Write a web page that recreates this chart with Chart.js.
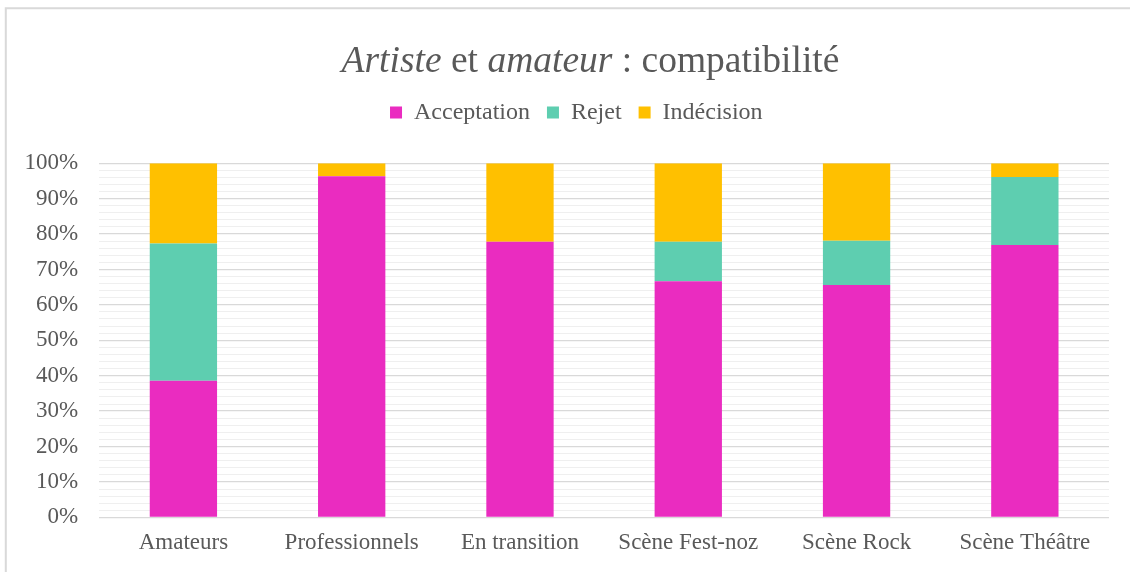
<!DOCTYPE html>
<html>
<head>
<meta charset="utf-8">
<script src="https://cdn.jsdelivr.net/npm/chart.js@4"></script>
<style>
html,body{margin:0;padding:0;background:#fff;}
#wrap{position:relative;width:1130px;height:572px;}
</style>
</head>
<body>
<div id="wrap"><canvas id="c" width="1130" height="572"></canvas></div>
<script>
const categories = ['Amateurs', 'Professionnels', 'En transition', 'Scène Fest-noz', 'Scène Rock', 'Scène Théâtre'];
const acceptation = [38.6, 96.3, 77.8, 66.7, 65.6, 76.9];
const rejet = [38.7, 0, 0, 11.1, 12.5, 19.2];
const indecision = [22.7, 3.7, 22.2, 22.2, 21.9, 3.9];
const seriesNames = ['Acceptation', 'Rejet', 'Indécision'];
const titleParts = [['Artiste', true], [' et ', false], ['amateur', true], [' : compatibilité', false]];

const FONT = "'Liberation Serif', 'Times New Roman', serif";
const TXT = '#595959';
const LEGEND_EXTRA = 28.7;
const LEGEND_DX = 20;

const frame = {
  id: 'frame',
  beforeDraw(chart) {
    const ctx = chart.ctx;
    ctx.save();
    ctx.fillStyle = '#fff';
    ctx.fillRect(0, 0, chart.width, chart.height);
    ctx.strokeStyle = '#d9d9d9';
    ctx.lineWidth = 2;
    ctx.beginPath();
    ctx.moveTo(5.8, chart.height);
    ctx.lineTo(5.8, 8.3);
    ctx.lineTo(chart.width, 8.3);
    ctx.stroke();
    ctx.restore();
  },
  afterDraw(chart) {
    const ctx = chart.ctx;
    ctx.save();
    ctx.fillStyle = TXT;
    ctx.textBaseline = 'alphabetic';
    const size = 37.5;
    const fonts = titleParts.map(p => (p[1] ? 'italic ' : '') + size + 'px ' + FONT);
    let total = 0;
    const widths = titleParts.map((p, i) => { ctx.font = fonts[i]; const w = ctx.measureText(p[0]).width; total += w; return w; });
    let x = 590.5 - total / 2;
    titleParts.forEach((p, i) => { ctx.font = fonts[i]; ctx.textAlign = 'left'; ctx.fillText(p[0], x, 72); x += widths[i]; });
    ctx.restore();
  }
};

const legendAdjust = {
  id: 'legendAdjust',
  beforeLayout(chart) {
    const lg = chart.legend;
    if (lg && !lg._patched) {
      const f = lg.fit;
      lg.fit = function () { f.call(this); this.height += LEGEND_EXTRA; };
      lg._patched = true;
    }
  },
  afterLayout(chart) {
    const lg = chart.legend;
    if (lg) { lg.left += LEGEND_DX; lg.right += LEGEND_DX; }
  }
};

new Chart(document.getElementById('c'), {
  type: 'bar',
  data: {
    labels: categories,
    datasets: [
      { label: seriesNames[0], data: acceptation, backgroundColor: '#EA2CC0' },
      { label: seriesNames[1], data: rejet, backgroundColor: '#5ECEB0' },
      { label: seriesNames[2], data: indecision, backgroundColor: '#FFC000' }
    ]
  },
  options: {
    responsive: false,
    animation: false,
    devicePixelRatio: 1,
    datasets: { bar: { categoryPercentage: 1, barPercentage: 0.4 } },
    layout: { padding: { top: 83.5, left: 3.6, right: 21, bottom: 3 } },
    plugins: {
      tooltip: { enabled: false },
      title: { display: false },
      legend: {
        position: 'top',
        labels: {
          boxWidth: 12, boxHeight: 12, padding: 17,
          color: TXT, font: { family: FONT, size: 24 }
        }
      }
    },
    scales: {
      x: {
        stacked: true,
        grid: { display: false, drawTicks: false },
        border: { display: false },
        ticks: { color: TXT, font: { family: FONT, size: 23 }, padding: 12, maxRotation: 0 }
      },
      y: {
        stacked: true,
        min: 0, max: 100,
        border: { display: false },
        grid: {
          drawTicks: false,
          color: ctx => (ctx.tick && ctx.tick.value % 10 === 0) ? '#d9d9d9' : '#efefef',
          lineWidth: ctx => (ctx.tick && ctx.tick.value % 10 === 0) ? 1.3 : 1.1
        },
        ticks: {
          stepSize: 2, autoSkip: false, maxTicksLimit: 100,
          padding: 21, color: TXT, font: { family: FONT, size: 23 },
          callback: v => (v % 10 === 0) ? v + '%' : ''
        }
      }
    }
  },
  plugins: [frame, legendAdjust]
});
</script>
</body>
</html>
